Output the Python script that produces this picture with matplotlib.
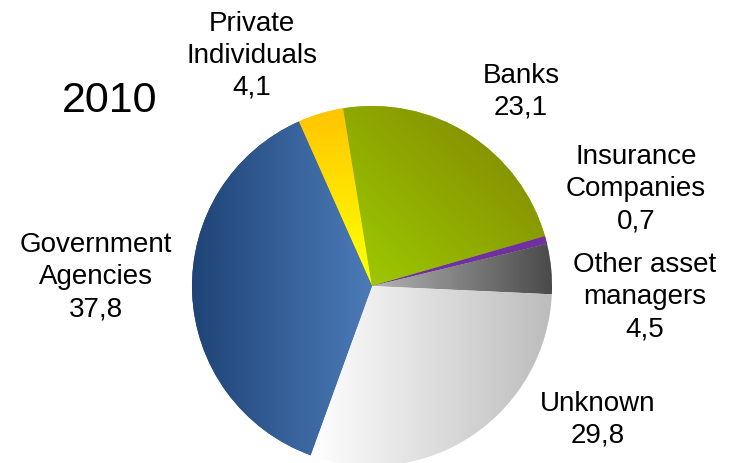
import numpy as np
import matplotlib
matplotlib.use('Agg')
from matplotlib import pyplot as plt
from matplotlib.colors import to_rgb

plt.rcParams['font.family'] = ['Liberation Sans', 'DejaVu Sans']

## data
year = '2010'
labels = ['Private\nIndividuals', 'Banks', 'Insurance\nCompanies',
          'Other asset\nmanagers', 'Unknown', 'Government\nAgencies']
values = [4.1, 23.1, 0.7, 4.5, 29.8, 37.8]

# gradient colours per slice (start colour, end colour)
grad_cols = [('#ffc400', '#ffff00'),
             ('#9cc800', '#838a00'),
             ('#7030a0', '#7030a0'),
             ('#b4b4b4', '#4a4a4a'),
             ('#ffffff', '#bcbcbc'),
             ('#1f4477', '#4c7bb8')]

# label centres (pixels from top-left)
label_pos = [(252, 56), (521, 92), (636, 189), (645, 297), (598, 420), (96, 277)]

W, H = 737, 464
cx, cy, R = 372, H - 287, 180

# gradient direction per slice, in pixel coords (from, to)
grad_dir = [((0, H - 110), (0, H - 270)),
            ((cx, cy), (cx + 150, cy + 160)),
            ((0, 0), (1, 0)),
            ((cx, 0), (cx + R, 0)),
            ((cx - 60, 0), (cx + R, 0)),
            ((cx - R, 0), (cx, 0))]

fig = plt.figure(figsize=(W / 100, H / 100), dpi=100)
ax = fig.add_axes([0, 0, 1, 1])

wedges, _ = ax.pie(values, startangle=114, counterclock=False, center=(cx, cy),
                   radius=R, frame=True,
                   colors=[c[0] for c in grad_cols],
                   wedgeprops=dict(linewidth=0))

ax.set_xlim(0, W)
ax.set_ylim(0, H)
ax.set_aspect('equal')
ax.axis('off')

# fill each wedge with a linear gradient
x0, x1, y0, y1 = cx - R - 2, cx + R + 2, cy - R - 2, cy + R + 2
X, Y = np.meshgrid(np.linspace(x0, x1, 400), np.linspace(y0, y1, 400))
for w, cols, d in zip(wedges, grad_cols, grad_dir):
    (px, py), (qx, qy) = d
    dx, dy = qx - px, qy - py
    t = ((X - px) * dx + (Y - py) * dy) / float(dx * dx + dy * dy)
    t = np.clip(t, 0, 1)[..., None]
    c1 = np.array(to_rgb(cols[0]))
    c2 = np.array(to_rgb(cols[1]))
    img = c1 * (1 - t) + c2 * t
    im = ax.imshow(img, extent=(x0, x1, y0, y1), origin='lower',
                   interpolation='bilinear', zorder=2)
    im.set_clip_path(w)

# labels
for lab, v, (lx, ly) in zip(labels, values, label_pos):
    txt = lab + '\n' + ('%.1f' % v).replace('.', ',')
    ax.text(lx, H - ly, txt, ha='center', va='center', fontsize=20,
            linespacing=1.3, color='black', zorder=5)

ax.text(110, H - 101, year, ha='center', va='center', fontsize=31, zorder=5)

plt.savefig('out.png', dpi=100)
